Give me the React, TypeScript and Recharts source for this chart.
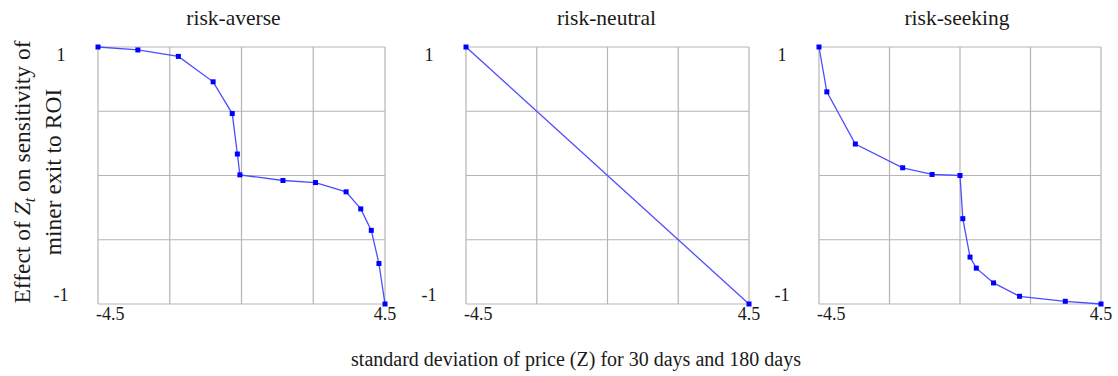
import React from 'react';
import { CartesianGrid, Line, LineChart, XAxis, YAxis } from 'recharts';

// x = standard deviation of price (Z), y = effect on sensitivity of miner exit
const averseX = [-4.5, -3.25, -1.98, -0.89, -0.29, -0.13, -0.05, 1.3, 2.32, 3.28, 3.74, 4.07, 4.31, 4.5];
const averseY = [1.0, 0.977, 0.927, 0.729, 0.482, 0.167, 0.005, -0.039, -0.055, -0.127, -0.26, -0.427, -0.685, -1.0];

const neutralX = [-4.5, 4.5];
const neutralY = [1, -1];

const seekingX = [-4.5, -4.25, -3.34, -1.83, -0.89, 0.0, 0.09, 0.32, 0.52, 1.07, 1.9, 3.36, 4.5];
const seekingY = [1.0, 0.651, 0.245, 0.06, 0.008, 0.0, -0.336, -0.635, -0.721, -0.836, -0.94, -0.979, -1.0];

const xTicks = [-4.5, -2.25, 0, 2.25, 4.5];
const yTicks = [-1, -0.5, 0, 0.5, 1];

const panelTitles = ['risk-averse', 'risk-neutral', 'risk-seeking'];

const FONT = '"Liberation Serif", "Times New Roman", serif';
const TEXT = '#1a1a1a';

const toRows = (xs: number[], ys: number[]) => xs.map((x, i) => ({ x, y: ys[i] }));

const panels = [
  { title: panelTitles[0], data: toRows(averseX, averseY), plotLeft: 98, plotWidth: 287, titleShift: -8 },
  { title: panelTitles[1], data: toRows(neutralX, neutralY), plotLeft: 466, plotWidth: 283, titleShift: -1 },
  { title: panelTitles[2], data: toRows(seekingX, seekingY), plotLeft: 819, plotWidth: 282, titleShift: -3 },
];

const Y_AXIS_W = 60;
const PLOT_TOP = 47;
const CHART_H = 330;
const X_AXIS_H = 26;

const YTick = (props: any) => {
  const { x, y, payload } = props;
  const v = payload.value;
  if (Math.abs(v) !== 1) return null;
  return (
    <text
      x={x - 29}
      y={v > 0 ? y + 8 : y - 9}
      textAnchor="middle"
      dominantBaseline="central"
      fontFamily={FONT}
      fontSize={18}
      fill={TEXT}
    >
      {v > 0 ? '1' : '-1'}
    </text>
  );
};

const XTick = (props: any) => {
  const { x, y, payload } = props;
  const v = payload.value;
  if (Math.abs(v) !== 4.5) return null;
  return (
    <text
      x={v < 0 ? x - 2 : x}
      y={y + 2}
      textAnchor={v < 0 ? 'start' : 'middle'}
      dominantBaseline="central"
      fontFamily={FONT}
      fontSize={18}
      fill={TEXT}
    >
      {String(v)}
    </text>
  );
};

const SquareDot = (props: any) => {
  const { cx, cy, index } = props;
  if (cx == null || cy == null) return null;
  return <rect key={index} x={cx - 2.5} y={cy - 2.5} width={5} height={5} fill="#0000ff" />;
};

function Panel({ title, data, plotLeft, plotWidth, titleShift }: (typeof panels)[number]) {
  const width = Y_AXIS_W + plotWidth + 20;
  return (
    <>
      <div
        style={{
          position: 'absolute',
          left: plotLeft - 60 + titleShift,
          width: plotWidth + 120,
          top: 6,
          textAlign: 'center',
          fontFamily: FONT,
          fontSize: 21.5,
          color: TEXT,
          whiteSpace: 'nowrap',
        }}
      >
        {title}
      </div>
      <div style={{ position: 'absolute', left: plotLeft - Y_AXIS_W, top: 0 }}>
        <LineChart
          width={width}
          height={CHART_H}
          data={data}
          margin={{ top: PLOT_TOP, right: 20, left: 0, bottom: 0 }}
        >
          <CartesianGrid stroke="#b5b5b5" strokeWidth={1.2} />
          <XAxis
            dataKey="x"
            type="number"
            domain={[-4.5, 4.5]}
            ticks={xTicks}
            height={X_AXIS_H}
            axisLine={false}
            tickLine={false}
            tick={<XTick />}
            interval={0}
          />
          <YAxis
            type="number"
            domain={[-1, 1]}
            ticks={yTicks}
            width={Y_AXIS_W}
            axisLine={false}
            tickLine={false}
            tick={<YTick />}
            interval={0}
          />
          <Line
            dataKey="y"
            stroke="#4d4dff"
            strokeWidth={1.3}
            dot={<SquareDot />}
            activeDot={false}
            isAnimationActive={false}
          />
        </LineChart>
      </div>
    </>
  );
}

const yLabelLine = (cx: number, content: React.ReactNode) => (
  <div
    style={{
      position: 'absolute',
      left: cx - 170,
      top: 172 - 15,
      width: 340,
      height: 30,
      transform: 'rotate(-90deg)',
      textAlign: 'center',
      fontFamily: FONT,
      fontSize: 23.5,
      lineHeight: '30px',
      color: TEXT,
      whiteSpace: 'nowrap',
    }}
  >
    {content}
  </div>
);

export default function App() {
  return (
    <div
      style={{
        position: 'absolute',
        left: 0,
        top: 0,
        width: 1118,
        height: 376,
        background: '#fff',
        overflow: 'hidden',
      }}
    >
      {panels.map((p) => (
        <Panel key={p.title} {...p} />
      ))}
      {yLabelLine(
        22,
        <>
          Effect of <i>Z</i>
          <sub style={{ fontSize: 16, verticalAlign: -5 }}>
            <i>t</i>
          </sub>{' '}
          on sensitivity of
        </>
      )}
      {yLabelLine(53, 'miner exit to ROI')}
      <div
        style={{
          position: 'absolute',
          left: 17,
          width: 1118,
          top: 348,
          textAlign: 'center',
          fontFamily: FONT,
          fontSize: 20,
          color: TEXT,
          whiteSpace: 'nowrap',
        }}
      >
        standard deviation of price (Z) for 30 days and 180 days
      </div>
    </div>
  );
}
